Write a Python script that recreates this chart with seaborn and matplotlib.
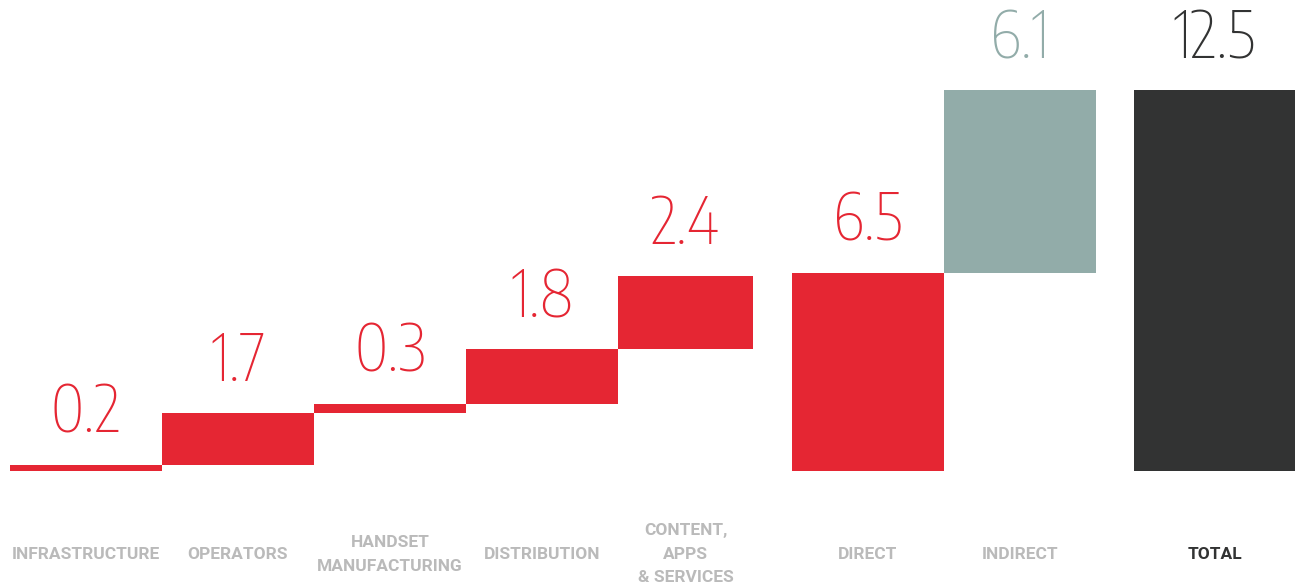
import numpy as np
import matplotlib
matplotlib.use("Agg")
import matplotlib.pyplot as plt
from matplotlib import font_manager as fm
import seaborn as sns

# --- DATA ---
categories = ["INFRASTRUCTURE", "OPERATORS", "HANDSET\nMANUFACTURING", "DISTRIBUTION",
              "CONTENT,\nAPPS\n& SERVICES", "DIRECT", "INDIRECT", "TOTAL"]
segment_values = [0.2, 1.7, 0.3, 1.8, 2.4]   # direct contributions, stacked
direct_value = 6.5
indirect_value = 6.1
total_value = 12.5
value_labels = ["0.2", "1.7", "0.3", "1.8", "2.4", "6.5", "6.1", "12.5"]

# --- STYLE / LAYOUT ---
RED = "#e52633"
SAGE = "#92aca9"
DARK = "#323333"
LABEL_GREY = "#bababa"
bar_colors = [RED] * 6 + [SAGE, DARK]
label_colors = [LABEL_GREY] * 7 + [DARK]
bar_widths = [1, 1, 1, 1, 0.89, 1, 1, 1.06]
gaps_before = [0, 0, 0, 0, 0, 0.255, 0, 0.25]

# bar spans: steps stack on each other, direct from zero, indirect on top of direct up to total
seg_bottoms = np.concatenate([[0], np.cumsum(segment_values)[:-1]])
bottoms = list(seg_bottoms) + [0, direct_value, 0]
heights = list(segment_values) + [direct_value, total_value - direct_value, total_value]

lefts = []
pos = 0.0
for w, g in zip(bar_widths, gaps_before):
    pos += g
    lefts.append(pos)
    pos += w
centers = [l + w / 2 for l, w in zip(lefts, bar_widths)]


# --- FONT untuk angka: cari font condensed / narrow ---
def pick_condensed():
    found = []
    for f in fm.fontManager.ttflist:
        name = f.name.lower()
        st = f.stretch
        is_narrow = ("condensed" in name or "narrow" in name or
                     (isinstance(st, str) and "condensed" in st) or
                     (isinstance(st, (int, float)) and st < 500))
        if not is_narrow or f.style != "normal":
            continue
        w = f.weight if isinstance(f.weight, (int, float)) else 400
        found.append((w, f.fname))
    if found:
        found.sort()
        return fm.FontProperties(fname=found[0][1])
    return fm.FontProperties(family="DejaVu Sans", weight="light", stretch="condensed")


num_font = pick_condensed()
num_font.set_size(46)

sns.set_style("white")
plt.rcParams["font.family"] = ["Roboto", "DejaVu Sans"]

fig = plt.figure(figsize=(12.95, 5.86), dpi=100)
ax = fig.add_axes([0, 115 / 586, 1, 471 / 586])

for i in range(len(categories)):
    sns.barplot(x=[centers[i]], y=[heights[i]], bottom=bottoms[i], width=bar_widths[i],
                native_scale=True, color=bar_colors[i], saturation=1, linewidth=0,
                errorbar=None, ax=ax)

ax.set_xlim(-10 / 152, 1285 / 152)
ax.set_ylim(0, 471 / 30.48)

for i in range(len(categories)):
    top = bottoms[i] + heights[i]
    ax.annotate(value_labels[i], xy=(centers[i], top), xytext=(0, 23),
                textcoords="offset points", ha="center", va="baseline",
                fontproperties=num_font, color=bar_colors[i] if i < 7 else DARK)
    ax.annotate(categories[i], xy=(centers[i], 0), xycoords=("data", "axes fraction"),
                xytext=(0, -60), textcoords="offset points", ha="center", va="center",
                multialignment="center", fontsize=12.5, fontweight="bold",
                linespacing=1.7, color=label_colors[i], annotation_clip=False)

ax.set_xticks([])
ax.set_yticks([])
ax.set_xlabel("")
ax.set_ylabel("")
sns.despine(ax=ax, left=True, bottom=True)

fig.savefig("out.png", dpi=100, facecolor="white")
